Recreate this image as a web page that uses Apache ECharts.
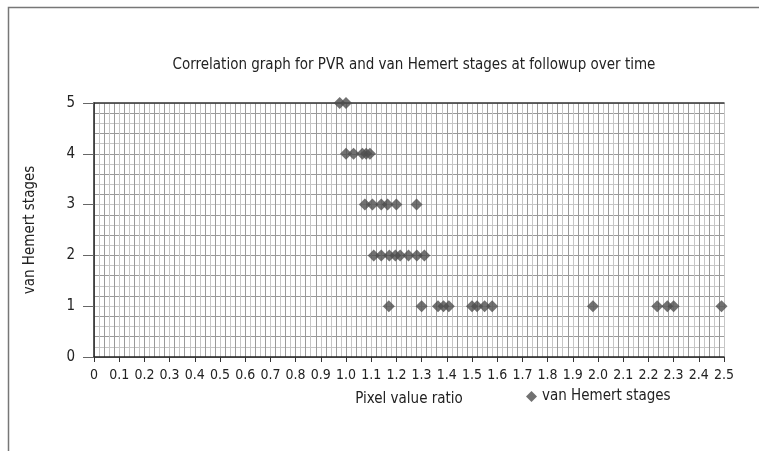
<!DOCTYPE html>
<html>
<head>
<meta charset="utf-8">
<script src="https://cdn.jsdelivr.net/npm/echarts@6/dist/echarts.min.js"></script>
<style>
html,body{margin:0;padding:0;background:#fff;}
#c{width:759px;height:451px;}
</style>
</head>
<body>
<div id="c"></div>
<script>
// Data
const titleText = 'Correlation graph for PVR and van Hemert stages at followup over time';
const seriesName = 'van Hemert stages';
const xName = 'Pixel value ratio';
const yName = 'van Hemert stages';

const stage5 = [0.975, 1.0];
const stage4 = [1.0, 1.03, 1.065, 1.08, 1.095];
const stage3 = [1.075, 1.105, 1.14, 1.165, 1.2, 1.28];
const stage2 = [1.11, 1.14, 1.172, 1.196, 1.215, 1.248, 1.281, 1.311];
const stage1 = [1.17, 1.30, 1.365, 1.387, 1.408, 1.50, 1.52, 1.55, 1.58, 1.98, 2.235, 2.275, 2.30, 2.49];

const xMin = 0, xMax = 2.5, xStep = 0.1;
const yMin = 0, yMax = 5, yStep = 1;

const points = [];
[[1, stage1], [2, stage2], [3, stage3], [4, stage4], [5, stage5]].forEach(function (g) {
  g[1].forEach(function (x) { points.push([x, g[0]]); });
});

const FONT = "'Liberation Sans Narrow', 'DejaVu Sans Condensed', sans-serif";

const chart = echarts.init(document.getElementById('c'), null, {renderer: 'canvas'});
chart.setOption({
  animation: false,
  backgroundColor: '#fff',
  textStyle: {fontFamily: FONT},
  title: {
    text: titleText,
    left: 409, top: 53, textAlign: 'center',
    textStyle: {fontFamily: FONT, fontSize: 15, fontWeight: 'normal', color: '#222'}
  },
  graphic: [{
    type: 'rect', silent: true,
    shape: {x: 8.5, y: 7.5, width: 800, height: 500},
    style: {fill: 'none', stroke: '#777', lineWidth: 1.5}
  }],
  legend: {
    data: [seriesName],
    left: 521, top: 384,
    icon: 'diamond', itemWidth: 11, itemHeight: 11, itemGap: 6,
    textStyle: {fontFamily: FONT, fontSize: 15, color: '#222'}
  },
  grid: {left: 94, right: 35, top: 103, bottom: 94, containLabel: false},
  xAxis: [{
    type: 'value', min: xMin, max: xMax, interval: xStep, z: 5,
    name: xName, nameLocation: 'middle', nameGap: 35,
    nameTextStyle: {fontFamily: FONT, fontSize: 15, color: '#222'},
    axisLine: {show: true, onZero: false, lineStyle: {color: '#222', width: 1.5}},
    axisTick: {show: true, length: 5, lineStyle: {color: '#333'}},
    axisLabel: {
      margin: 11, fontFamily: FONT, fontSize: 14, color: '#222',
      formatter: function (v) { return v === 0 ? '0' : v.toFixed(1); }
    },
    splitLine: {show: false}
  }, {
    type: 'value', min: xMin, max: xMax, interval: 0.02, position: 'top', z: 1,
    axisLine: {show: true, onZero: false, lineStyle: {color: '#333', width: 1.5}},
    axisTick: {show: false}, axisLabel: {show: false},
    splitLine: {show: true, lineStyle: {color: ['#9a9a9a', '#c6c6c6'], width: 1}}
  }],
  yAxis: [{
    type: 'value', min: yMin, max: yMax, interval: yStep, z: 5,
    name: yName, nameLocation: 'middle', nameGap: 56,
    nameTextStyle: {fontFamily: FONT, fontSize: 15, color: '#222'},
    axisLine: {show: true, onZero: false, lineStyle: {color: '#222', width: 1.5}},
    axisTick: {show: true, length: 11, lineStyle: {color: '#666'}},
    axisLabel: {margin: 19, fontFamily: FONT, fontSize: 15, color: '#222'},
    splitLine: {show: false}
  }, {
    type: 'value', min: yMin, max: yMax, interval: 0.2, position: 'right', z: 1,
    axisLine: {show: false}, axisTick: {show: false}, axisLabel: {show: false},
    splitLine: {show: true, lineStyle: {color: ['#9a9a9a', '#c6c6c6'], width: 1}}
  }],
  series: [{
    name: seriesName,
    type: 'scatter',
    xAxisIndex: 0, yAxisIndex: 0,
    symbol: 'diamond', symbolSize: 12,
    itemStyle: {color: '#4e4e4e'},
    z: 10,
    data: points
  }]
});
</script>
</body>
</html>
